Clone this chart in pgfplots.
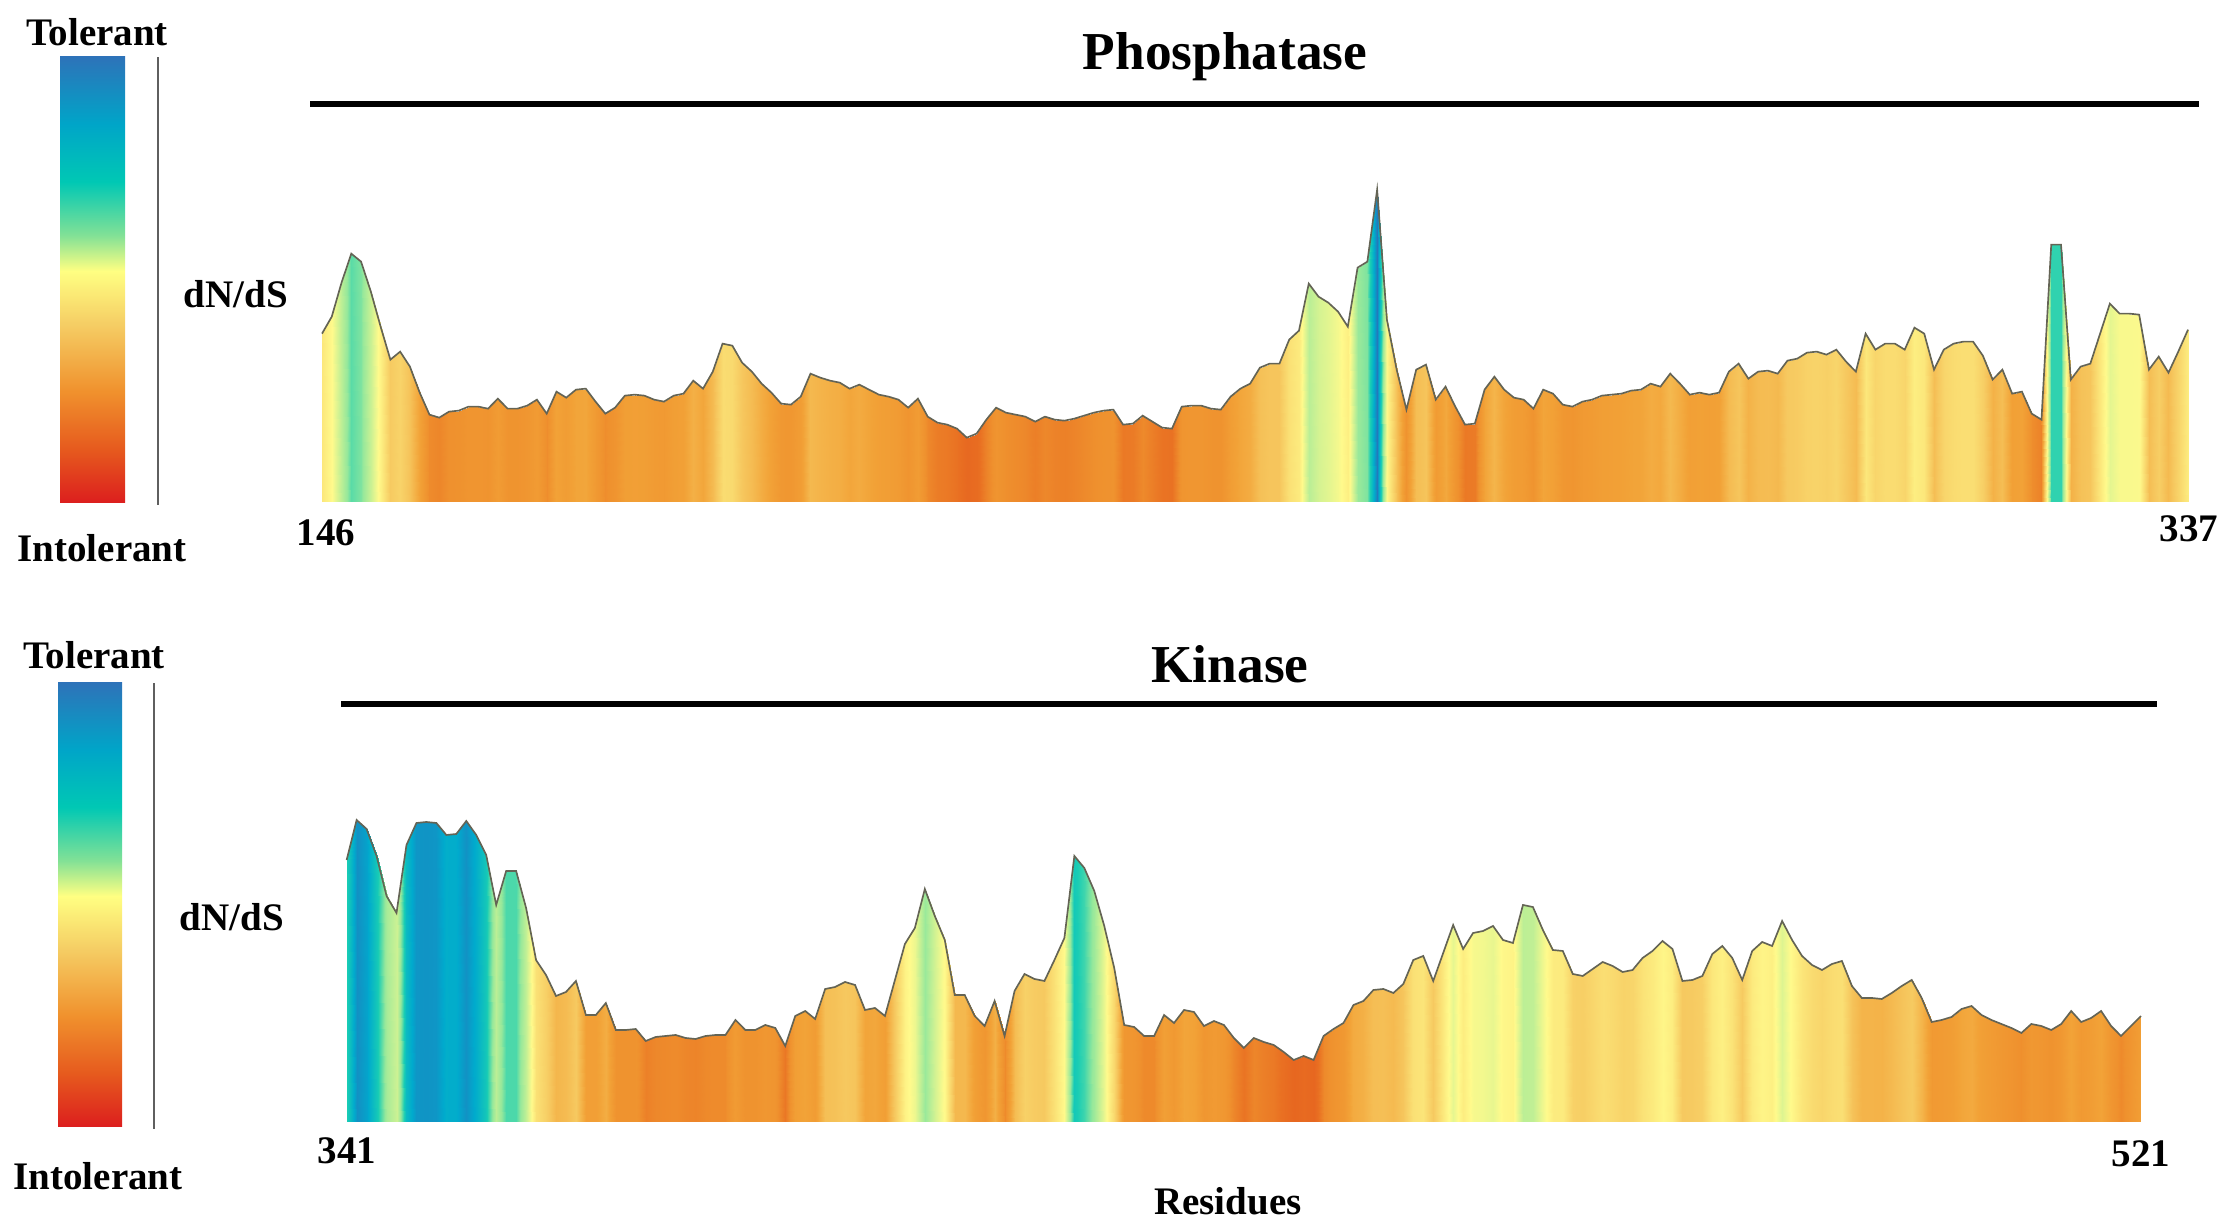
\documentclass[border=0pt]{standalone}
\usepackage{pgfplots}
\usepackage{pgfplotstable}
\pgfplotsset{compat=1.18}
\usepackage{fontspec}
\setmainfont{Liberation Serif}

\definecolor{cR}{RGB}{220,30,30}
\definecolor{cDO}{RGB}{230,90,30}
\definecolor{cO}{RGB}{240,145,45}
\definecolor{cLO}{RGB}{245,205,100}
\definecolor{cY}{RGB}{255,255,130}
\definecolor{cG}{RGB}{130,225,150}
\definecolor{cT}{RGB}{0,200,180}
\definecolor{cC}{RGB}{0,165,200}
\definecolor{cB}{RGB}{45,115,185}
\definecolor{outl}{RGB}{100,100,85}
\definecolor{vline}{RGB}{95,95,95}

\pgfdeclareverticalshading{tolbar}{100bp}{color(0bp)=(cR); color(25bp)=(cR); color(31bp)=(cDO); color(37.5bp)=(cO); color(45bp)=(cLO); color(51bp)=(cY); color(55bp)=(cG); color(61bp)=(cT); color(67.5bp)=(cC); color(75bp)=(cB); color(100bp)=(cB)}

\pgfplotsset{
  colormap={dnds}{rgb255(0pt)=(215,25,28) rgb255(50pt)=(228,92,30) rgb255(72pt)=(233,112,34) rgb255(90pt)=(239,145,46) rgb255(110pt)=(242,162,55) rgb255(140pt)=(246,200,95) rgb255(185pt)=(255,250,140) rgb255(235pt)=(150,232,155) rgb255(262pt)=(25,205,180) rgb255(290pt)=(0,170,205) rgb255(315pt)=(40,115,185)},
  dndsax/.style={scale only axis, hide axis, view={0}{90}, ymin=0, ymax=320,
    height=96pt, point meta min=0, point meta max=315, colormap name=dnds, clip=false, anchor=south west}
}

\pgfplotstableread{
x v
146 168
147 185
148 219
149 248
150 240
151 210
152 175
153 142
154 150
155 135
156 109
157 87
158 84
159 90
160 91
161 95
162 95
163 93
164 103
165 93
166 93
167 96
168 102
169 88
170 110
171 104
172 112
173 113
174 100
175 88
176 94
177 106
178 107
179 106
180 102
181 100
182 106
183 108
184 121
185 113
186 130
187 158
188 156
189 139
190 130
191 118
192 109
193 98
194 97
195 105
196 128
197 124
198 121
199 119
200 113
201 117
202 112
203 107
204 105
205 102
206 94
207 103
208 85
209 79
210 77
211 73
212 64
213 68
214 82
215 94
216 89
217 87
218 85
219 80
220 85
221 82
222 81
223 83
224 86
225 89
226 91
227 92
228 77
229 78
230 86
231 80
232 74
233 73
234 95
235 96
236 96
237 93
238 92
239 105
240 113
241 118
242 134
243 138
244 138
245 162
246 171
247 218
248 205
249 199
250 190
251 175
252 234
253 240
254 312
255 182
256 132
257 92
258 132
259 137
260 102
261 115
262 95
263 77
264 78
265 112
266 125
267 112
268 104
269 102
270 93
271 112
272 108
273 97
274 95
275 100
276 102
277 106
278 107
279 108
280 111
281 112
282 118
283 115
284 128
285 118
286 107
287 109
288 107
289 109
290 130
291 138
292 123
293 130
294 131
295 128
296 141
297 143
298 149
299 150
300 147
301 152
302 140
303 130
304 168
305 152
306 158
307 158
308 152
309 174
310 168
311 132
312 152
313 158
314 160
315 160
316 146
317 122
318 132
319 108
320 110
321 88
322 82
323 257
324 257
325 122
326 135
327 138
328 168
329 198
330 188
331 188
332 187
333 132
334 145
335 129
336 150
337 172
}\phos

\pgfplotstableread{
x v
341 262
342 302
343 293
344 266
345 226
346 209
347 277
348 299
349 300
350 299
351 287
352 288
353 301
354 287
355 267
356 217
357 251
358 251
359 214
360 162
361 147
362 126
363 130
364 141
365 107
366 107
367 119
368 92
369 92
370 93
371 81
372 85
373 86
374 87
375 84
376 83
377 86
378 87
379 87
380 102
381 92
382 92
383 97
384 94
385 76
386 106
387 111
388 103
389 133
390 135
391 140
392 137
393 112
394 114
395 106
396 142
397 178
398 194
399 233
400 206
401 182
402 127
403 127
404 106
405 96
406 121
407 86
408 131
409 148
410 143
411 141
412 162
413 184
414 266
415 254
416 231
417 196
418 154
419 97
420 95
421 86
422 86
423 107
424 99
425 112
426 110
427 96
428 101
429 97
430 84
431 74
432 84
433 80
434 77
435 70
436 62
437 66
438 62
439 86
440 93
441 99
442 117
443 121
444 132
445 133
446 129
447 138
448 162
449 166
450 141
451 169
452 197
453 173
454 189
455 191
456 196
457 182
458 179
459 217
460 215
461 192
462 172
463 171
464 148
465 146
466 153
467 160
468 156
469 150
470 152
471 164
472 171
473 181
474 173
475 141
476 142
477 146
478 168
479 176
480 164
481 142
482 171
483 180
484 176
485 201
486 182
487 166
488 157
489 152
490 158
491 161
492 136
493 124
494 124
495 123
496 129
497 136
498 142
499 124
500 100
501 102
502 105
503 113
504 116
505 107
506 102
507 98
508 94
509 89
510 98
511 96
512 92
513 98
514 111
515 100
516 104
517 111
518 96
519 86
520 96
521 106
}\kin

\pgfplotstableread{
x v
}\phosB
\pgfplotstableread{
x v
}\kinB
\pgfplotstablevertcat{\phosB}{\phos}
\pgfplotstablevertcat{\phosB}{\phos}
\pgfplotstablevertcat{\kinB}{\kin}
\pgfplotstablevertcat{\kinB}{\kin}

\newcommand\lab{\fontsize{11.7}{13}\selectfont\bfseries}
\newcommand\ttl{\fontsize{16}{18}\selectfont\bfseries}

\begin{document}
\begin{tikzpicture}
\path[use as bounding box] (0pt,0pt) rectangle (668.7pt,366pt);

% ---------- Phosphatase ----------
\begin{axis}[dndsax, at={(96.6pt,215.5pt)}, width=559.8pt, xmin=146, xmax=337]
\addplot3[surf, shader=interp, mesh/rows=2, point meta=\thisrow{v}]
  table[x=x, y expr={\coordindex<192 ? 0 : \thisrow{v}}, z index=1, z expr=0] {\phosB};
\addplot3[draw=outl, line width=0.5pt, no marks] table[x=x, y=v, z index=1, z expr=0] {\phos};
\end{axis}

\node[font=\ttl] at (367.5pt,348.9pt) {Phosphatase};
\draw[line width=1.8pt] (93pt,334.8pt) -- (659.7pt,334.8pt);
\shade[shading=tolbar] (18pt,215.1pt) rectangle (37.5pt,348.9pt);
\draw[vline, line width=0.45pt] (47.4pt,214.5pt) -- (47.4pt,348.9pt);
\node[font=\lab, inner sep=0pt] at (29.1pt,356.4pt) {Tolerant};
\node[font=\lab, inner sep=0pt] at (30.6pt,201.6pt) {Intolerant};
\node[font=\lab, inner sep=0pt] at (70.8pt,277.8pt) {dN/dS};
\node[font=\lab, inner sep=0pt] at (97.8pt,206.1pt) {146};
\node[font=\lab, inner sep=0pt] at (656.7pt,207.3pt) {337};

% ---------- Kinase ----------
\begin{axis}[dndsax, at={(104.0pt,29.4pt)}, width=538.3pt, xmin=341, xmax=521]
\addplot3[surf, shader=interp, mesh/rows=2, point meta=\thisrow{v}]
  table[x=x, y expr={\coordindex<181 ? 0 : \thisrow{v}}, z index=1, z expr=0] {\kinB};
\addplot3[draw=outl, line width=0.5pt, no marks] table[x=x, y=v, z index=1, z expr=0] {\kin};
\end{axis}

\node[font=\ttl] at (369pt,166.8pt) {Kinase};
\draw[line width=1.8pt] (102.3pt,154.8pt) -- (647.1pt,154.8pt);
\shade[shading=tolbar] (17.4pt,27.9pt) rectangle (36.6pt,161.1pt);
\draw[vline, line width=0.45pt] (46.2pt,27.3pt) -- (46.2pt,161.1pt);
\node[font=\lab, inner sep=0pt] at (28.2pt,169.5pt) {Tolerant};
\node[font=\lab, inner sep=0pt] at (29.4pt,13.2pt) {Intolerant};
\node[font=\lab, inner sep=0pt] at (69.6pt,90.9pt) {dN/dS};
\node[font=\lab, inner sep=0pt] at (104.1pt,20.7pt) {341};
\node[font=\lab, inner sep=0pt] at (642.3pt,19.8pt) {521};
\node[font=\lab, inner sep=0pt] at (368.4pt,5.7pt) {Residues};
\end{tikzpicture}
\end{document}
